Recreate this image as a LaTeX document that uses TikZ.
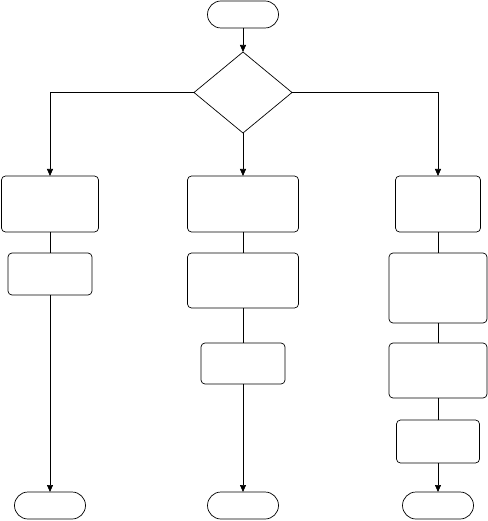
\documentclass[tikz,border=0pt]{standalone}
\usepackage{xcolor}
\usepackage{tikz}
\usetikzlibrary{arrows.meta,positioning,shapes.geometric,shapes.misc}

\begin{document}
\begin{tikzpicture}[
    line width=0.7pt,
    flowbox/.style={draw,rounded corners=4pt,inner sep=0pt,outer sep=0pt},
    terminal/.style={draw,rounded rectangle,inner sep=0pt,outer sep=0pt,minimum width=71pt,minimum height=27pt},
    decision/.style={draw,diamond,inner sep=0pt,outer sep=0pt,minimum width=98pt,minimum height=81pt},
    arrow/.style={-{Triangle[length=7pt,width=6pt]}},
    link/.style={-}
  ]
    \useasboundingbox (0,0) rectangle (487pt,-521pt);
    \node[terminal] (start) at (243pt,-14.5pt) {};
    \node[decision,below=24pt of start] (dec) {};

    % middle column
    \node[flowbox,minimum width=111pt,minimum height=56pt,below=43pt of dec] (m1) {};
    \node[flowbox,minimum width=111pt,minimum height=55pt,below=21pt of m1] (m2) {};
    \node[flowbox,minimum width=84pt,minimum height=41pt,below=35pt of m2] (m3) {};
    \node[terminal,below=108pt of m3] (mend) {};

    % left column
    \node[flowbox,minimum width=97pt,minimum height=56pt,left=89pt of m1] (l1) {};
    \node[flowbox,minimum width=84pt,minimum height=42pt,below=21pt of l1] (l2) {};
    \node[terminal,below=197pt of l2] (lend) {};

    % right column
    \node[flowbox,minimum width=85pt,minimum height=56pt,right=97pt of m1] (r1) {};
    \node[flowbox,minimum width=98pt,minimum height=70pt,below=21pt of r1] (r2) {};
    \node[flowbox,minimum width=98pt,minimum height=55pt,below=20pt of r2] (r3) {};
    \node[flowbox,minimum width=83pt,minimum height=43pt,below=22pt of r3] (r4) {};
    \node[terminal,below=29pt of r4] (rend) {};

    \draw[arrow] (start) -- (dec);
    \draw[arrow] (dec.west) -| (l1.north);
    \draw[arrow] (dec.south) -- (m1.north);
    \draw[arrow] (dec.east) -| (r1.north);

    \draw[link] (l1) -- (l2);
    \draw[arrow] (l2) -- (lend);
    \draw[link] (m1) -- (m2);
    \draw[link] (m2) -- (m3);
    \draw[arrow] (m3) -- (mend);
    \draw[link] (r1) -- (r2);
    \draw[link] (r2) -- (r3);
    \draw[link] (r3) -- (r4);
    \draw[arrow] (r4) -- (rend);
  \end{tikzpicture}
\end{document}
